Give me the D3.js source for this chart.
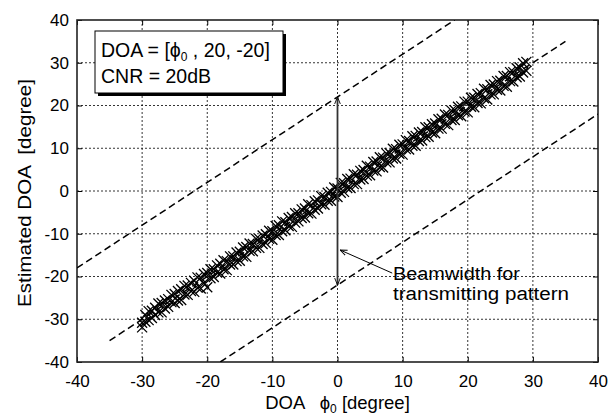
<!DOCTYPE html>
<html>
<head>
<meta charset="utf-8">
<script src="https://cdn.jsdelivr.net/npm/d3@7/dist/d3.min.js"></script>
<style>
  body { margin: 0; background: #fff; }
  text { font-family: "Liberation Sans", Arial, sans-serif; fill: #000; white-space: pre; }
</style>
</head>
<body>
<svg id="chart"></svg>
<script>
// true DOA (phi0) and estimated DOA from two trials
const trueDoa = [
  -30, -29.5, -29, -28.5, -28, -27.5, -27, -26.5, -26, -25.5,
  -25, -24.5, -24, -23.5, -23, -22.5, -22, -21.5, -21, -20.5,
  -20, -19.5, -19, -18.5, -18, -17.5, -17, -16.5, -16, -15.5,
  -15, -14.5, -14, -13.5, -13, -12.5, -12, -11.5, -11, -10.5,
  -10, -9.5, -9, -8.5, -8, -7.5, -7, -6.5, -6, -5.5,
  -5, -4.5, -4, -3.5, -3, -2.5, -2, -1.5, -1, -0.5,
  0, 0.5, 1, 1.5, 2, 2.5, 3, 3.5, 4, 4.5,
  5, 5.5, 6, 6.5, 7, 7.5, 8, 8.5, 9, 9.5,
  10, 10.5, 11, 11.5, 12, 12.5, 13, 13.5, 14, 14.5,
  15, 15.5, 16, 16.5, 17, 17.5, 18, 18.5, 19, 19.5,
  20, 20.5, 21, 21.5, 22, 22.5, 23, 23.5, 24, 24.5,
  25, 25.5, 26, 26.5, 27, 27.5, 28, 28.5, 29
];
const estDoa1 = [
  -30.8, -29.0, -30.2, -28.0, -27.3, -28.4, -26.2, -27.5, -25.3, -26.0,
  -24.1, -25.6, -23.0, -24.2, -22.1, -23.4, -21.0, -22.6, -20.3, -21.5,
  -19.2, -20.4, -18.3, -19.1, -17.0, -18.3, -16.4, -17.2, -15.3, -16.4,
  -14.2, -15.3, -13.1, -14.0, -12.4, -13.3, -11.2, -12.4, -10.1, -11.2,
  -9.4, -10.3, -8.0, -9.4, -7.3, -8.2, -6.1, -7.4, -5.2, -6.3,
  -4.1, -5.2, -3.3, -4.4, -2.2, -3.1, -1.4, -2.3, -0.2, -1.3,
  0.6, -0.4, 1.8, 0.7, 2.9, 1.6, 3.8, 2.7, 4.9, 3.6,
  5.7, 4.8, 6.9, 5.6, 7.8, 6.7, 8.9, 7.6, 9.8, 8.7,
  10.9, 9.8, 11.7, 10.6, 12.9, 11.7, 13.8, 12.6, 14.9, 13.7,
  15.8, 14.6, 16.9, 15.7, 17.8, 16.6, 18.9, 17.7, 19.8, 18.6,
  20.9, 19.7, 21.8, 20.6, 22.9, 21.7, 23.8, 22.6, 24.9, 23.7,
  25.8, 24.6, 26.9, 25.7, 27.8, 26.6, 28.9, 27.7, 30.2
];
const estDoa2 = [
  -31.9, -30.6, -28.1, -29.7, -29.0, -26.3, -28.4, -25.6, -27.1, -24.3,
  -26.2, -23.4, -25.5, -22.2, -24.3, -21.5, -23.6, -20.2, -22.8, -19.4,
  -22.5, -18.3, -20.1, -17.4, -19.3, -16.2, -18.5, -15.3, -17.2, -14.4,
  -16.3, -13.2, -15.4, -12.3, -14.1, -11.2, -13.3, -10.4, -12.2, -9.3,
  -11.4, -8.2, -10.3, -7.1, -9.2, -6.3, -8.4, -5.2, -7.1, -4.3,
  -6.2, -3.1, -5.3, -2.4, -4.1, -1.2, -3.2, -0.4, -2.3, 0.8,
  -1.4, 1.9, -0.2, 2.8, 0.7, 3.9, 1.6, 4.7, 2.8, 5.9,
  3.7, 6.8, 4.6, 7.9, 5.5, 8.8, 6.7, 9.9, 7.6, 10.8,
  8.5, 11.9, 9.7, 12.8, 10.6, 13.7, 11.8, 14.9, 12.7, 15.6,
  13.5, 16.8, 14.6, 17.9, 15.4, 18.8, 16.6, 19.7, 17.5, 20.9,
  18.4, 21.8, 19.6, 22.7, 20.5, 23.9, 21.4, 24.8, 22.6, 25.7,
  23.5, 26.9, 24.4, 27.8, 25.6, 28.7, 26.8, 29.9, 28.1
];

// dashed reference lines: ideal and +/- beamwidth
const refLines = [
  { x1: -35, y1: -35, x2: 35, y2: 35 },
  { x1: -40, y1: -18, x2: 18, y2: 40 },
  { x1: -18, y1: -40, x2: 40, y2: 18 }
];

const xTicks = [-40, -30, -20, -10, 0, 10, 20, 30, 40];
const yTicks = [-40, -30, -20, -10, 0, 10, 20, 30, 40];

const beamHalf = 22;              // arrow extent at phi0 = 0
const notePointer = { x1: 8.4, y1: -19.2, x2: 0.4, y2: -13.8 };

const width = 611, height = 419;
const margin = { top: 20, right: 13, bottom: 57, left: 77 };

const svg = d3.select("#chart")
  .attr("width", width)
  .attr("height", height);

const x = d3.scaleLinear().domain([-40, 40]).range([margin.left, width - margin.right]);
const y = d3.scaleLinear().domain([-40, 40]).range([height - margin.bottom, margin.top]);

const defs = svg.append("defs");
defs.append("clipPath").attr("id", "plotclip")
  .append("rect")
  .attr("x", margin.left).attr("y", margin.top)
  .attr("width", x(40) - x(-40)).attr("height", y(-40) - y(40));

defs.append("marker")
  .attr("id", "arrow")
  .attr("viewBox", "0 0 10 10")
  .attr("refX", 10).attr("refY", 5)
  .attr("markerWidth", 7).attr("markerHeight", 7)
  .attr("markerUnits", "userSpaceOnUse")
  .attr("orient", "auto-start-reverse")
  .append("path")
  .attr("d", "M0,1 L10,5 L0,9")
  .attr("fill", "none")
  .attr("stroke", "#000")
  .attr("stroke-width", 1.3);

// grid
const grid = svg.append("g");
grid.selectAll(".vg").data(xTicks.slice(1, -1)).enter().append("line")
  .attr("x1", d => x(d)).attr("x2", d => x(d))
  .attr("y1", y(-40)).attr("y2", y(40))
  .attr("stroke", "#000").attr("stroke-width", 0.8)
  .attr("stroke-dasharray", "2,2");
grid.selectAll(".hg").data(yTicks.slice(1, -1)).enter().append("line")
  .attr("y1", d => y(d)).attr("y2", d => y(d))
  .attr("x1", x(-40)).attr("x2", x(40))
  .attr("stroke", "#000").attr("stroke-width", 0.8)
  .attr("stroke-dasharray", "2,2");

// axes with inward ticks, plain hyphen for negatives
const fmt = d => String(d);
const xAxis = svg.append("g")
  .attr("transform", `translate(0,${y(-40)})`)
  .call(d3.axisBottom(x).tickValues(xTicks).tickFormat(fmt)
    .tickSizeInner(-5).tickSizeOuter(0).tickPadding(13));
const yAxis = svg.append("g")
  .attr("transform", `translate(${x(-40)},0)`)
  .call(d3.axisLeft(y).tickValues(yTicks).tickFormat(fmt)
    .tickSizeInner(-5).tickSizeOuter(0).tickPadding(8));
svg.append("g")
  .attr("transform", `translate(0,${y(40)})`)
  .call(d3.axisTop(x).tickValues(xTicks).tickSizeInner(-5).tickSizeOuter(0).tickFormat(""));
svg.append("g")
  .attr("transform", `translate(${x(40)},0)`)
  .call(d3.axisRight(y).tickValues(yTicks).tickSizeInner(-5).tickSizeOuter(0).tickFormat(""));
svg.selectAll(".domain").remove();
svg.selectAll(".tick line").attr("stroke", "#000");
[xAxis, yAxis].forEach(a => a.selectAll("text")
  .attr("fill", "#000")
  .style("font-family", "'Liberation Sans', Arial, sans-serif")
  .style("font-size", "17px"));

// frame
svg.append("rect")
  .attr("x", x(-40)).attr("y", y(40))
  .attr("width", x(40) - x(-40)).attr("height", y(-40) - y(40))
  .attr("fill", "none").attr("stroke", "#222").attr("stroke-width", 1.6);

const plot = svg.append("g").attr("clip-path", "url(#plotclip)");

// dashed lines
plot.selectAll(".ref").data(refLines).enter().append("line")
  .attr("x1", d => x(d.x1)).attr("y1", d => y(d.y1))
  .attr("x2", d => x(d.x2)).attr("y2", d => y(d.y2))
  .attr("stroke", "#000").attr("stroke-width", 1.5)
  .attr("stroke-dasharray", "7,4");

// x markers
const pts = [];
trueDoa.forEach((d, i) => {
  pts.push({ t: d, e: estDoa1[i] });
  pts.push({ t: d, e: estDoa2[i] });
});
const s = 5;
plot.selectAll(".pt").data(pts).enter().append("path")
  .attr("d", d => {
    const px = x(d.t), py = y(d.e);
    return `M${px - s},${py - s}L${px + s},${py + s}M${px - s},${py + s}L${px + s},${py - s}`;
  })
  .attr("stroke", "#000").attr("stroke-width", 1.3).attr("fill", "none");

// beamwidth arrow
svg.append("line")
  .attr("x1", x(0)).attr("x2", x(0))
  .attr("y1", y(-beamHalf)).attr("y2", y(beamHalf))
  .attr("stroke", "#333").attr("stroke-width", 1.8)
  .attr("marker-start", "url(#arrow)")
  .attr("marker-end", "url(#arrow)");

svg.append("line")
  .attr("x1", x(notePointer.x1)).attr("y1", y(notePointer.y1))
  .attr("x2", x(notePointer.x2)).attr("y2", y(notePointer.y2))
  .attr("stroke", "#000").attr("stroke-width", 1)
  .attr("marker-end", "url(#arrow)");

svg.append("text")
  .attr("x", 393).attr("y", 280)
  .attr("textLength", 127).attr("lengthAdjust", "spacingAndGlyphs")
  .style("font-size", "18px")
  .text("Beamwidth for");
svg.append("text")
  .attr("x", 393).attr("y", 300)
  .attr("textLength", 176).attr("lengthAdjust", "spacingAndGlyphs")
  .style("font-size", "18px")
  .text("transmitting pattern");

// legend box with shadow
svg.append("rect")
  .attr("x", 98).attr("y", 34).attr("width", 188).attr("height", 62)
  .attr("fill", "#000");
svg.append("rect")
  .attr("x", 95).attr("y", 31).attr("width", 188).attr("height", 62)
  .attr("fill", "#fff").attr("stroke", "#000").attr("stroke-width", 1);

const l1 = svg.append("text").attr("x", 101).attr("y", 57).style("font-size", "19.5px");
l1.append("tspan").text("DOA = [\u03d5");
l1.append("tspan").attr("dy", 4).style("font-size", "12px").text("0");
l1.append("tspan").attr("dy", -4).text(" , 20, -20]");
svg.append("text").attr("x", 101).attr("y", 83).style("font-size", "19.5px").text("CNR = 20dB");

// axis labels
const xl = svg.append("text")
  .attr("x", x(0)).attr("y", 409)
  .attr("text-anchor", "middle")
  .style("font-size", "18.5px");
xl.append("tspan").text("DOA   \u03d5");
xl.append("tspan").attr("dy", 4).style("font-size", "12px").text("0");
xl.append("tspan").attr("dy", -4).text(" [degree]");

svg.append("text")
  .attr("transform", `translate(31,${y(0) + 2}) rotate(-90)`)
  .attr("text-anchor", "middle")
  .attr("textLength", 228).attr("lengthAdjust", "spacingAndGlyphs")
  .style("font-size", "18.5px")
  .text("Estimated DOA  [degree]");
</script>
</body>
</html>
